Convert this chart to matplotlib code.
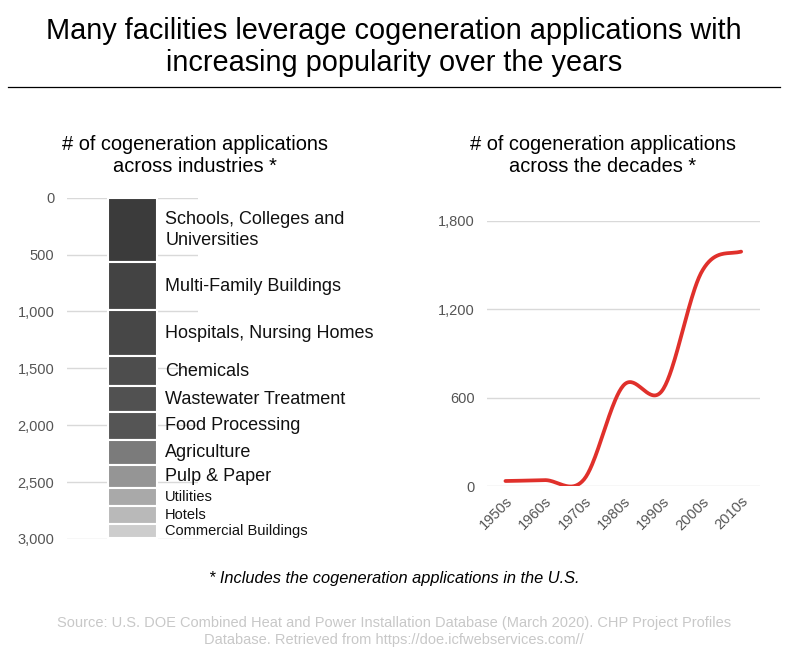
import numpy as np
import matplotlib.pyplot as plt

plt.rcParams['font.family'] = ['Liberation Sans', 'DejaVu Sans']

# ==========================================================
# Data
# ==========================================================

industries = [
    "Schools, Colleges and\nUniversities",
    "Multi-Family Buildings",
    "Hospitals, Nursing Homes",
    "Chemicals",
    "Wastewater Treatment",
    "Food Processing",
    "Agriculture",
    "Pulp & Paper",
    "Utilities",
    "Hotels",
    "Commercial Buildings",
]
industry_counts = [569, 422, 404, 262, 229, 240, 226, 202, 158, 155, 121]
industry_colors = ["#3b3b3b", "#434343", "#474747", "#4d4d4d", "#515151",
                   "#555555", "#7b7b7b", "#959595", "#a9a9a9", "#b9b9b9",
                   "#cdcdcd"]
label_sizes = [13, 13, 13, 13, 13, 13, 13, 13, 10.5, 10.5, 10.5]

decades = ["1950s", "1960s", "1970s", "1980s", "1990s", "2000s", "2010s"]
decade_counts = [34, 40, 45, 682, 652, 1457, 1592]

left_ticks = [0, 500, 1000, 1500, 2000, 2500, 3000]
right_ticks = [0, 600, 1200, 1800]

W, H = 788, 662
fig = plt.figure(figsize=(W / 100, H / 100), dpi=100)


def fx(px):
    return px / W


def fy(py):
    return 1 - py / H


# ==========================================================
# Title
# ==========================================================

fig.text(0.5, fy(47), "Many facilities leverage cogeneration applications with\n"
         "increasing popularity over the years",
         ha="center", va="center", fontsize=20.8, linespacing=1.22)
fig.add_artist(plt.Line2D([fx(8), fx(780)], [fy(87), fy(87)],
                          color="black", lw=0.9))

fig.text(fx(195), fy(155), "# of cogeneration applications\nacross industries *",
         ha="center", va="center", fontsize=14.4, linespacing=1.2)
fig.text(fx(603), fy(155), "# of cogeneration applications\nacross the decades *",
         ha="center", va="center", fontsize=14.4, linespacing=1.2)

# ==========================================================
# Left: stacked bar
# ==========================================================

ax1 = fig.add_axes([fx(67), fy(539), fx(198 - 67), fy(197.7) - fy(539)])
bottom = 0
for name, val, col, fs in zip(industries, industry_counts, industry_colors, label_sizes):
    ax1.bar(0, val, bottom=bottom, width=0.75, color=col,
            edgecolor="white", linewidth=1.5, zorder=3)
    ax1.text(0.5, bottom + val / 2, name, ha="left", va="center",
             fontsize=fs, color="#111111", linespacing=1.3, zorder=4,
             clip_on=False)
    bottom += val

ax1.set_xlim(-1.0, 1.0)
ax1.set_ylim(3000, 0)
ax1.set_yticks(left_ticks)
ax1.set_yticklabels([f"{t:,}" for t in left_ticks])
ax1.set_xticks([])
ax1.grid(axis="y", color="#d9d9d9", lw=1, zorder=0)
ax1.tick_params(axis="y", length=0, pad=9, labelsize=10.5, labelcolor="#555555")
for s in ax1.spines.values():
    s.set_visible(False)

# ==========================================================
# Right: smoothed line
# ==========================================================

x = np.arange(len(decades), dtype=float)
y = np.array(decade_counts, dtype=float)
# Catmull-Rom smoothing through the data points
yp = np.concatenate([[y[0]], y, [y[-1]]])
xs, ys = [], []
for i in range(len(y) - 1):
    p0, p1, p2, p3 = yp[i], yp[i + 1], yp[i + 2], yp[i + 3]
    m1 = (p2 - p0) / 2
    m2 = (p3 - p1) / 2
    t = np.linspace(0, 1, 40)
    h00 = 2 * t**3 - 3 * t**2 + 1
    h10 = t**3 - 2 * t**2 + t
    h01 = -2 * t**3 + 3 * t**2
    h11 = t**3 - t**2
    xs.append(x[i] + t)
    ys.append(h00 * p1 + h10 * m1 + h01 * p2 + h11 * m2)
xs = np.concatenate(xs)
ys = np.concatenate(ys)

ax2 = fig.add_axes([fx(487), fy(486), fx(760 - 487), fy(221) - fy(486)])
ax2.plot(xs, ys, color="#e0302b", lw=2.7, solid_capstyle="round", zorder=3)
ax2.set_xlim(-0.47, 6.48)
ax2.set_ylim(0, 1800)
ax2.set_yticks(right_ticks)
ax2.set_yticklabels([f"{t:,}" for t in right_ticks])
ax2.set_xticks(x)
ax2.set_xticklabels(decades, rotation=45, ha="right", rotation_mode="anchor")
ax2.grid(axis="y", color="#d9d9d9", lw=1, zorder=0)
ax2.tick_params(axis="y", length=0, pad=9, labelsize=10.5, labelcolor="#555555")
ax2.tick_params(axis="x", length=0, pad=6, labelsize=10.5, labelcolor="#555555")
for s in ax2.spines.values():
    s.set_visible(False)

# ==========================================================
# Notes
# ==========================================================

fig.text(0.5, fy(578), "* Includes the cogeneration applications in the U.S.",
         ha="center", va="center", fontsize=11.8, style="italic")
fig.text(0.5, fy(631.5), "Source: U.S. DOE Combined Heat and Power Installation Database (March 2020). CHP Project Profiles\n"
         "Database. Retrieved from https://doe.icfwebservices.com//",
         ha="center", va="center", fontsize=10.5, color="#c8c8c8",
         linespacing=1.35)

fig.savefig("out.png", dpi=100)
